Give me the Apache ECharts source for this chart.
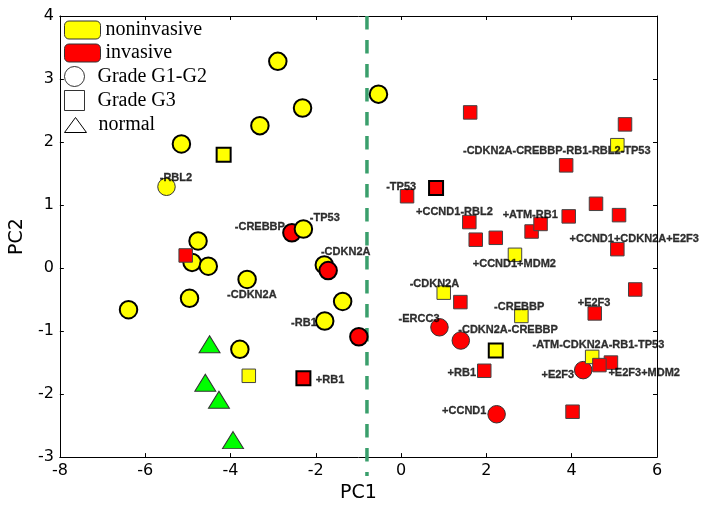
<!DOCTYPE html>
<html>
<head>
<meta charset="utf-8">
<script src="https://cdn.jsdelivr.net/npm/echarts@6/dist/echarts.min.js"></script>
<style>
  html, body { margin: 0; padding: 0; background: #fff; }
  #chart { width: 704px; height: 508px; }
</style>
</head>
<body>
<div id="chart"></div>
<script>
// Axis ranges
const xRange = [-8, 6];
const yRange = [-3, 4];

// Vertical separator at PC1 = -0.8
const separatorLine = [[-0.8, 4], [-0.8, -3.3]];

// Noninvasive, grade G1-G2 samples (circles)
const nonInvasiveCircles = [
  [-2.89, 3.28], [-0.53, 2.76], [-2.31, 2.54], [-3.31, 2.26], [-5.15, 1.97],
  [-4.76, 0.43], [-4.90, 0.09], [-4.52, 0.03], [-2.29, 0.62], [-1.80, 0.05],
  [-3.61, -0.18], [-4.96, -0.48], [-1.37, -0.53], [-1.79, -0.84],
  [-6.39, -0.66], [-3.78, -1.29]
];
const nonInvasiveCirclesPerturbed = [[-5.50, 1.29]];

// Invasive, grade G1-G2 samples (circles)
const invasiveCirclesBack = [[-2.56, 0.56]];
const invasiveCirclesFront = [[-1.71, -0.04], [-0.99, -1.09]];
const invasiveCirclesPerturbed = [[0.90, -0.94], [1.40, -1.15], [4.27, -1.62], [2.24, -2.32]];

// Noninvasive, grade G3 samples (squares)
const nonInvasiveSquares = [[-4.16, 1.80], [2.22, -1.31]];
const nonInvasiveSquaresPerturbed = [
  [-3.57, -1.71], [1.00, -0.39], [2.82, -0.76], [2.67, 0.21], [5.07, 1.95], [4.48, -1.41]
];

// Invasive, grade G3 samples (squares)
const invasiveSquares = [[0.82, 1.27], [-2.29, -1.75]];
const invasiveSquaresPerturbed = [
  [1.62, 2.47], [5.25, 2.28], [3.87, 1.63], [0.14, 1.14], [4.57, 1.02],
  [3.93, 0.82], [5.11, 0.84], [1.60, 0.73], [3.06, 0.58], [3.27, 0.70],
  [1.75, 0.45], [2.22, 0.48], [5.07, 0.30], [5.49, -0.34], [1.39, -0.54],
  [4.54, -0.72], [4.92, -1.50], [4.65, -1.54], [1.95, -1.63], [4.02, -2.28],
  [-5.05, 0.20]
];

// Normal tissue (triangles)
const normalSamples = [[-4.49, -1.21], [-4.59, -1.82], [-4.27, -2.09], [-3.94, -2.73]];

// Gene perturbation annotations: [x, y, text]
const annotations = [
  [1.45, 1.86, '-CDKN2A-CREBBP-RB1-RBL2-TP53'],
  [-0.35, 1.29, '-TP53'],
  [0.35, 0.89, '+CCND1-RBL2'],
  [2.38, 0.85, '+ATM-RB1'],
  [3.95, 0.46, '+CCND1+CDKN2A+E2F3'],
  [1.68, 0.06, '+CCND1+MDM2'],
  [0.20, -0.25, '-CDKN2A'],
  [2.18, -0.62, '-CREBBP'],
  [4.14, -0.55, '+E2F3'],
  [-0.06, -0.81, '-ERCC3'],
  [1.34, -0.98, '-CDKN2A-CREBBP'],
  [3.08, -1.22, '-ATM-CDKN2A-RB1-TP53'],
  [3.29, -1.70, '+E2F3'],
  [4.86, -1.67, '+E2F3+MDM2'],
  [1.09, -1.66, '+RB1'],
  [0.96, -2.27, '+CCND1'],
  [-5.66, 1.43, '-RBL2'],
  [-3.90, 0.65, '-CREBBP'],
  [-2.14, 0.79, '-TP53'],
  [-1.88, 0.26, '-CDKN2A'],
  [-4.08, -0.43, '-CDKN2A'],
  [-2.58, -0.87, '-RB1'],
  [-2.00, -1.77, '+RB1']
];

const YELLOW = '#ffff00';
const RED = '#ff0000';
const GREEN = '#00ff00';

const chart = echarts.init(document.getElementById('chart'), null, { renderer: 'canvas' });

function marks(name, data, symbol, size, color, borderWidth, borderColor) {
  return {
    name: name,
    type: 'scatter',
    data: data,
    symbol: symbol,
    symbolSize: size,
    itemStyle: { color: color, borderColor: borderColor, borderWidth: borderWidth, opacity: 1 },
    emphasis: { disabled: true },
    animation: false,
    z: 3
  };
}

const axisCommon = {
  type: 'value',
  axisLine: { show: true, onZero: false, lineStyle: { color: '#000', width: 1 } },
  axisTick: { show: true, inside: true, length: 4, lineStyle: { color: '#000' } },
  splitLine: { show: false }
};

const legendText = { fontFamily: 'Liberation Serif', fontSize: 20, color: '#000' };

const option = {
  backgroundColor: '#fff',
  animation: false,
  grid: { left: 57, right: 47, top: 16, bottom: 45, containLabel: false },
  xAxis: [
    Object.assign({}, axisCommon, {
      min: xRange[0], max: xRange[1], interval: 2, position: 'bottom',
      name: 'PC1', nameLocation: 'middle', nameGap: 25,
      nameTextStyle: { fontFamily: 'DejaVu Sans', fontSize: 19, color: '#000' },
      axisLabel: { fontFamily: 'DejaVu Sans', fontSize: 16, color: '#000', margin: 6 }
    }),
    Object.assign({}, axisCommon, {
      min: xRange[0], max: xRange[1], interval: 2, position: 'top',
      axisLabel: { show: false }
    })
  ],
  yAxis: [
    Object.assign({}, axisCommon, {
      min: yRange[0], max: yRange[1], interval: 1, position: 'left',
      name: 'PC2', nameLocation: 'middle', nameGap: 25, nameRotate: 90,
      nameTextStyle: { fontFamily: 'DejaVu Sans', fontSize: 19, color: '#000' },
      axisLabel: { fontFamily: 'DejaVu Sans', fontSize: 16, color: '#000', margin: 6 }
    }),
    Object.assign({}, axisCommon, {
      min: yRange[0], max: yRange[1], interval: 1, position: 'right',
      axisLabel: { show: false }
    })
  ],
  legend: [
    {
      orient: 'vertical', left: 64, top: 20, padding: 0, itemWidth: 36, itemHeight: 18, itemGap: 3,
      textStyle: legendText, selectedMode: false,
      data: [
        { name: 'noninvasive', icon: 'roundRect', itemStyle: { color: YELLOW, borderColor: '#333', borderWidth: 1 } },
        { name: 'invasive', icon: 'roundRect', itemStyle: { color: RED, borderColor: '#333', borderWidth: 1 } }
      ]
    },
    {
      orient: 'vertical', left: 64, top: 66, padding: 0, itemWidth: 36, itemHeight: 20, itemGap: 3,
      textStyle: legendText, selectedMode: false,
      data: [
        { name: 'Grade G1-G2', icon: 'circle', itemStyle: { color: '#fff', borderColor: '#000', borderWidth: 1 } },
        { name: 'Grade G3', icon: 'path://M0,0L1,0L1,1L0,1Z', itemStyle: { color: '#fff', borderColor: '#000', borderWidth: 1 } }
      ]
    },
    {
      orient: 'vertical', left: 64, top: 115, padding: 0, itemWidth: 36, itemHeight: 15, itemGap: 3,
      textStyle: legendText, selectedMode: false,
      data: [
        { name: 'normal', icon: 'path://M11,0L22,15L0,15Z', itemStyle: { color: '#fff', borderColor: '#000', borderWidth: 1 } }
      ]
    }
  ],
  series: [
    {
      name: 'separator', type: 'line', data: separatorLine, clip: false,
      symbol: 'none', silent: true, z: 2,
      lineStyle: { color: '#3a9f6c', width: 3.5, type: [13.5, 10.5] }
    },
    marks('invasive', invasiveCirclesBack, 'circle', 17.5, RED, 2, '#000'),
    marks('noninvasive', nonInvasiveCircles, 'circle', 17.5, YELLOW, 2, '#000'),
    marks('noninvasive', nonInvasiveCirclesPerturbed, 'circle', 17.5, YELLOW, 1, '#333'),
    marks('invasive', invasiveCirclesFront, 'circle', 17.5, RED, 2, '#000'),
    marks('invasive', invasiveCirclesPerturbed, 'circle', 17.5, RED, 1, '#333'),
    marks('noninvasive', nonInvasiveSquares, 'rect', 14, YELLOW, 2, '#000'),
    marks('noninvasive', nonInvasiveSquaresPerturbed, 'rect', 13.5, YELLOW, 1, '#444'),
    marks('invasive', invasiveSquares, 'rect', 14, RED, 2, '#000'),
    marks('invasive', invasiveSquaresPerturbed, 'rect', 13.5, RED, 1, '#444'),
    marks('normal', normalSamples, 'triangle', [21, 17], GREEN, 1, '#333'),
    { name: 'Grade G1-G2', type: 'scatter', data: [] },
    { name: 'Grade G3', type: 'scatter', data: [] },
    {
      name: 'annotations', type: 'scatter', z: 5, silent: true,
      data: annotations.map(a => ({ value: [a[0], a[1]], label: { formatter: a[2] } })),
      symbolSize: 0.1,
      itemStyle: { color: 'rgba(0,0,0,0)' },
      label: {
        show: true, position: 'right', distance: 0,
        fontFamily: 'Liberation Sans', fontWeight: 'bold', fontSize: 11, color: '#000',
        textBorderColor: '#000', textBorderWidth: 0.3
      }
    }
  ]
};

chart.setOption(option);
</script>
</body>
</html>
